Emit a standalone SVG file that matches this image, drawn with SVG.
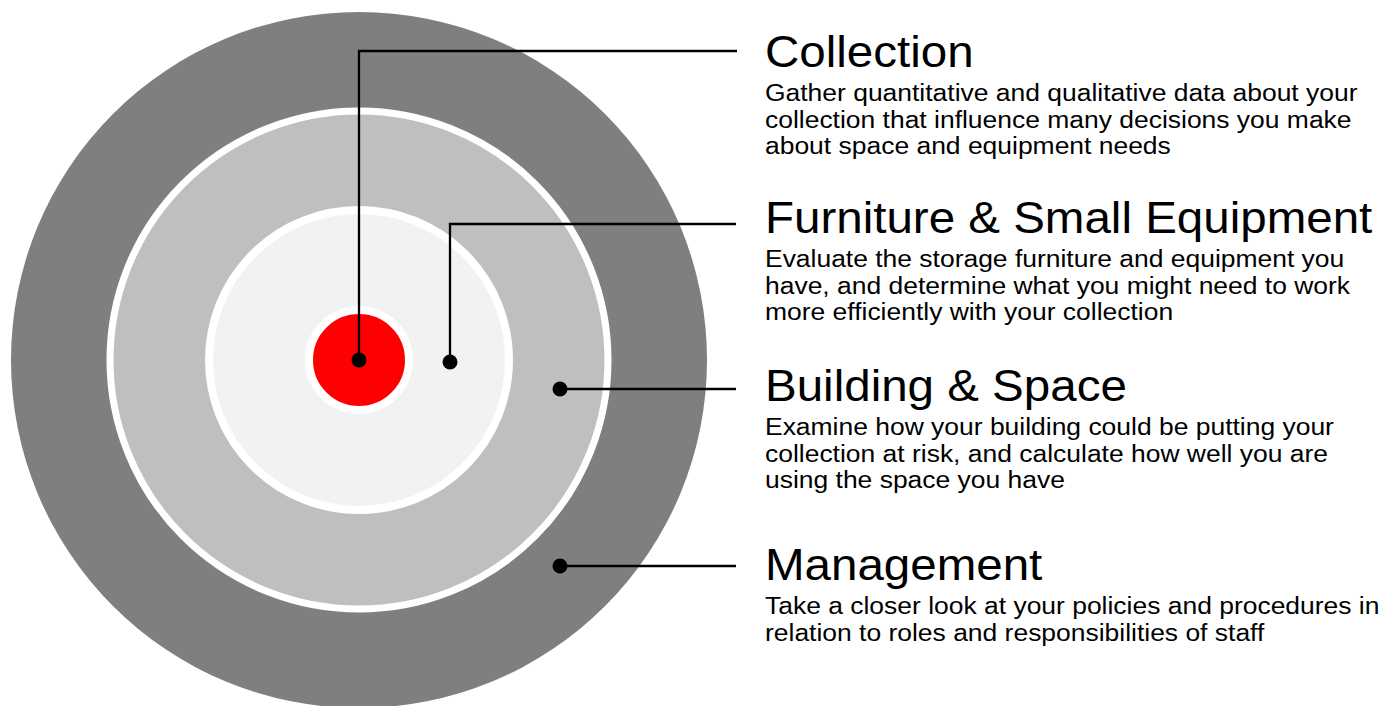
<svg xmlns="http://www.w3.org/2000/svg" width="1389" height="706" viewBox="0 0 1389 706">
<style>
.t{font-family:"Liberation Sans",Arial,sans-serif;font-size:44px;fill:#000}
.b{font-family:"Liberation Sans",Arial,sans-serif;font-size:24.5px;fill:#000}
.ring{stroke:#fff}
.conn{fill:none;stroke:#000;stroke-width:2.3}
.dot{fill:#000}
</style>
<rect width="1389" height="706" fill="#fff"/>
<g id="management">
<circle cx="359" cy="360" r="348" fill="#7f7f7f"/>
<g transform="matrix(1.08 0 0 1 765 0)">
<text class="t" x="0" y="580.5">Management</text>
<text class="b" x="0" y="614">Take a closer look at your policies and procedures in</text>
<text class="b" x="0" y="640.7">relation to roles and responsibilities of staff</text>
</g>
</g>
<g id="building-space">
<circle class="ring" cx="359" cy="360" r="249" fill="#bfbfbf" stroke-width="7"/>
<g transform="matrix(1.08 0 0 1 765 0)">
<text class="t" x="0" y="401.5">Building &amp; Space</text>
<text class="b" x="0" y="435">Examine how your building could be putting your</text>
<text class="b" x="0" y="461.7">collection at risk, and calculate how well you are</text>
<text class="b" x="0" y="488.4">using the space you have</text>
</g>
</g>
<g id="furniture-equipment">
<circle class="ring" cx="359" cy="360" r="150" fill="#f2f2f2" stroke-width="8"/>
<g transform="matrix(1.08 0 0 1 765 0)">
<text class="t" x="0" y="233.5">Furniture &amp; Small Equipment</text>
<text class="b" x="0" y="267">Evaluate the storage furniture and equipment you</text>
<text class="b" x="0" y="293.7">have, and determine what you might need to work</text>
<text class="b" x="0" y="320.4">more efficiently with your collection</text>
</g>
</g>
<g id="collection">
<circle class="ring" cx="359" cy="360" r="50" fill="#ff0000" stroke-width="8"/>
<g transform="matrix(1.08 0 0 1 765 0)">
<text class="t" x="0" y="67">Collection</text>
<text class="b" x="0" y="101">Gather quantitative and qualitative data about your</text>
<text class="b" x="0" y="127.7">collection that influence many decisions you make</text>
<text class="b" x="0" y="154.4">about space and equipment needs</text>
</g>
</g>
<g id="connectors">
<path class="conn" d="M359,360 V51 H737"/>
<circle class="dot" cx="359" cy="360" r="7.5"/>
<path class="conn" d="M450,362 V224 H736"/>
<circle class="dot" cx="450" cy="362" r="7.5"/>
<path class="conn" d="M560,389 H736"/>
<circle class="dot" cx="560" cy="389" r="7.5"/>
<path class="conn" d="M560,566 H736"/>
<circle class="dot" cx="560" cy="566" r="7.5"/>
</g>
</svg>
